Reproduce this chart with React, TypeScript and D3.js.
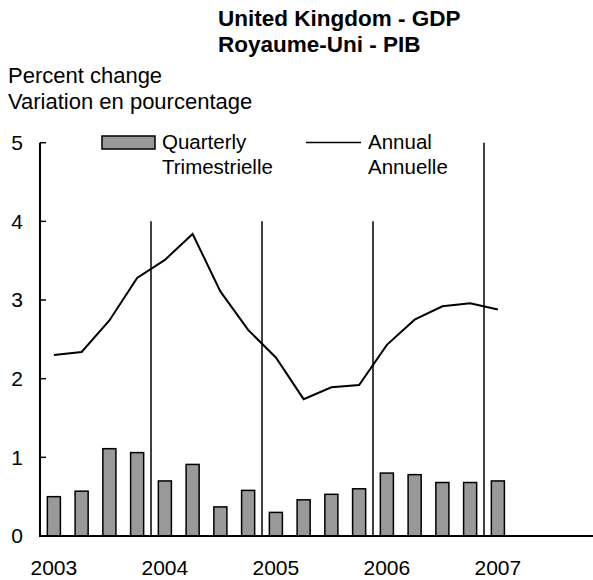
import React from "react";
import * as d3 from "d3";

const quarters = [
  "2003Q1", "2003Q2", "2003Q3", "2003Q4",
  "2004Q1", "2004Q2", "2004Q3", "2004Q4",
  "2005Q1", "2005Q2", "2005Q3", "2005Q4",
  "2006Q1", "2006Q2", "2006Q3", "2006Q4",
  "2007Q1", "2007Q2", "2007Q3", "2007Q4",
];
const quarterlyValues = [0.5, 0.57, 1.11, 1.06, 0.7, 0.91, 0.37, 0.58, 0.3, 0.46, 0.53, 0.6, 0.8, 0.78, 0.68, 0.68, 0.7];
const annualValues = [2.3, 2.34, 2.74, 3.28, 3.51, 3.84, 3.11, 2.62, 2.27, 1.74, 1.89, 1.92, 2.43, 2.75, 2.92, 2.96, 2.88];
const yearLabels = ["2003", "2004", "2005", "2006", "2007"];
const yTicks = [0, 1, 2, 3, 4, 5];
// separators between years: [first quarter of year, top value]
const separators: [string, number][] = [
  ["2004Q1", 4],
  ["2005Q1", 4],
  ["2006Q1", 4],
  ["2007Q1", 5],
];

const W = 593;
const H = 580;
const left = 40;
const right = 595;
const FONT = "'Liberation Sans', Arial, sans-serif";
const FS = 20.5;

export default function App() {
  const x = d3.scaleBand<string>().domain(quarters).range([left, right]).paddingInner(0.53).paddingOuter(0.265);
  const xOuter = d3.scaleBand<string>().domain(quarters).range([left, right]);
  const y = d3.scaleLinear().domain([0, 5]).range([536, 142.7]);
  const center = (q: string) => (xOuter(q) as number) + xOuter.bandwidth() / 2;

  const line = d3
    .line<number>()
    .x((_, i) => center(quarters[i]))
    .y((d) => y(d));

  return (
    <svg width={W} height={H} style={{ position: "absolute", left: 0, top: 0, background: "#fff" }} fontFamily={FONT}>
      <rect x={0} y={0} width={W} height={H} fill="#fff" />
      <text x={218} y={26} fontSize={22.5} fontWeight="bold">United Kingdom - GDP</text>
      <text x={218} y={52} fontSize={22.5} fontWeight="bold">Royaume-Uni - PIB</text>
      <text x={8} y={83} fontSize={22}>Percent change</text>
      <text x={8} y={109} fontSize={22}>Variation en pourcentage</text>

      {/* bars */}
      {quarterlyValues.map((v, i) => (
        <rect
          key={"b" + i}
          x={x(quarters[i])}
          y={y(v)}
          width={x.bandwidth()}
          height={y(0) - y(v)}
          fill="#999999"
          stroke="#000"
          strokeWidth={1.5}
        />
      ))}

      {/* year separators */}
      {separators.map(([q, top]) => (
        <line key={q} x1={xOuter(q)} x2={xOuter(q)} y1={y(top)} y2={y(0)} stroke="#000" strokeWidth={1.5} />
      ))}

      {/* annual line */}
      <path d={line(annualValues) || ""} fill="none" stroke="#000" strokeWidth={2} strokeLinejoin="miter" />

      {/* axes */}
      <line x1={left} x2={left} y1={y(5)} y2={y(0)} stroke="#000" strokeWidth={2} />
      <line x1={left - 1} x2={W} y1={y(0)} y2={y(0)} stroke="#000" strokeWidth={2} />
      {yTicks.map((t) => (
        <g key={t}>
          <line x1={left} x2={left + 6} y1={y(t)} y2={y(t)} stroke="#000" strokeWidth={1.5} />
          <text x={23} y={y(t)} dy="0.35em" textAnchor="end" fontSize={21}>
            {t}
          </text>
        </g>
      ))}
      {yearLabels.map((yr) => (
        <text key={yr} x={center(yr + "Q1")} y={575} textAnchor="middle" fontSize={21}>
          {yr}
        </text>
      ))}

      {/* legend */}
      <rect x={102} y={136} width={53} height={13} fill="#999999" stroke="#000" strokeWidth={1.5} />
      <text x={162} y={149} fontSize={FS}>Quarterly</text>
      <text x={162} y={174} fontSize={FS}>Trimestrielle</text>
      <line x1={306} x2={361} y1={142.5} y2={142.5} stroke="#000" strokeWidth={1.5} />
      <text x={368} y={149} fontSize={FS}>Annual</text>
      <text x={368} y={174} fontSize={FS}>Annuelle</text>
    </svg>
  );
}
